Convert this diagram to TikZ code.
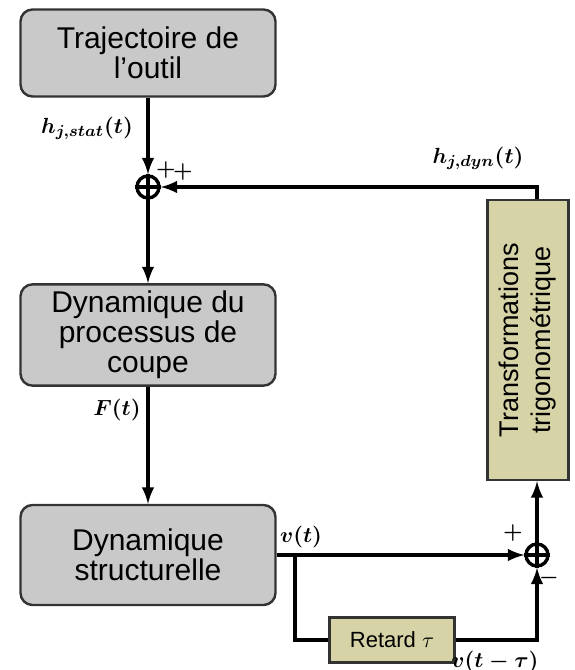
\documentclass[tikz,border=0pt]{standalone}
\usepackage{amsmath}
\usepackage{fontspec}
\setmainfont{Liberation Sans}
\usetikzlibrary{arrows}
\definecolor{grisbloc}{HTML}{C9C9C9}
\definecolor{olivebloc}{HTML}{D6D3A6}

\begin{document}
\begin{tikzpicture}[x=0.5pt,y=-0.5pt,
  bloc/.style={draw=black!80,rounded corners=6pt,fill=grisbloc,line width=1.2pt,
    minimum width=127.5pt,align=center,font=\fontsize{15}{15}\selectfont},
  sigma/.style={circle,draw,line width=1.7pt,minimum size=11pt,inner sep=0pt},
  fleche/.style={-latex,line width=1.8pt},
  lien/.style={line width=1.8pt},
  etiq/.style={font=\fontsize{11}{12}\selectfont}]
\useasboundingbox (0,0) rectangle (574,670);
\node[bloc,minimum height=43.5pt] at (148,53) (traj) {Trajectoire de\\l'outil};
\node[sigma] at (148,187) (s1) {};
\draw[line width=1.7pt] (s1.north)--(s1.south) (s1.west)--(s1.east);
\node[bloc,minimum height=50pt] at (148,335) (coupe) {Dynamique du\\processus de\\coupe};
\node[bloc,minimum height=50pt] at (148,555) (struct) {Dynamique\\structurelle};
\node[draw=black!80,fill=olivebloc,line width=1.2pt,minimum width=40.5pt,minimum height=140pt,
  inner sep=0pt,font=\fontsize{13.5}{16}\selectfont] at (528,340) (trans)
  {\rotatebox{90}{\begin{tabular}{c}Transformations\\trigonom\'etrique\end{tabular}}};
\node[sigma] at (537,555) (s2) {};
\draw[line width=1.7pt] (s2.north)--(s2.south) (s2.west)--(s2.east);
\node[draw=black!80,fill=olivebloc,line width=1.2pt,minimum width=62.5pt,minimum height=22.5pt,
  font=\fontsize{11}{12}\selectfont] at (392,640) (retard) {Retard $\tau$};
\coordinate (br) at (295,555);
% liaisons
\draw[fleche] (traj) -- (s1);
\draw[fleche] (s1) -- (coupe);
\draw[fleche] (coupe) -- (struct);
\draw[fleche] (struct.east) -- (s2);
\draw[lien] (br) |- (retard.west);
\draw[fleche] (retard.east) -| (s2);
\draw[fleche] (s2) -- (s2 |- trans.south);
\draw[fleche] (s2 |- trans.north) -- (s2 |- s1) -- (s1);
% etiquettes
\node[etiq] at (87,128) {$\boldsymbol{h_{j,stat}(t)}$};
\node[etiq] at (478,158) {$\boldsymbol{h_{j,dyn}(t)}$};
\node[etiq] at (117,410) {$\boldsymbol{F(t)}$};
\node[etiq] at (301,537) {$\boldsymbol{v(t)}$};
\node[etiq] at (495,662) {$\boldsymbol{v(t-\tau)}$};
\node[etiq] at (166,170) {$\boldsymbol{+}$};
\node[etiq] at (183,172) {$\boldsymbol{+}$};
\node[etiq] at (513,533) {$\boldsymbol{+}$};
\node[etiq] at (549,578) {$\boldsymbol{-}$};
\end{tikzpicture}
\end{document}
